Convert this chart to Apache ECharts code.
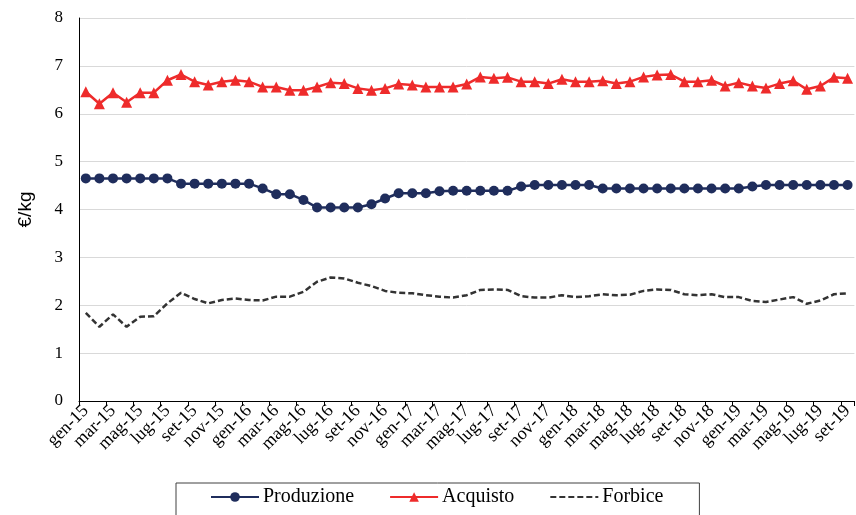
<!DOCTYPE html>
<html>
<head>
<meta charset="utf-8">
<script src="https://cdn.jsdelivr.net/npm/echarts@6/dist/echarts.min.js"></script>
<style>html,body{margin:0;padding:0;background:#fff}#c{width:856px;height:515px}</style>
</head>
<body>
<div id="c"></div>
<script>
const months = ['gen','feb','mar','apr','mag','giu','lug','ago','set','ott','nov','dic'];
const categories = [];
for (let y = 15; y <= 19; y++) {
  for (let m = 0; m < 12; m++) {
    if (y === 19 && m > 8) break;
    categories.push(months[m] + '-' + y);
  }
}
const produzione = [4.65,4.65,4.65,4.65,4.65,4.65,4.65,4.54,4.54,4.54,4.54,4.54,4.54,4.44,4.32,4.32,4.20,4.04,4.04,4.04,4.04,4.11,4.23,4.34,4.34,4.34,4.38,4.39,4.39,4.39,4.39,4.39,4.48,4.51,4.51,4.51,4.51,4.51,4.44,4.44,4.44,4.44,4.44,4.44,4.44,4.44,4.44,4.44,4.44,4.48,4.51,4.51,4.51,4.51,4.51,4.51,4.51];
const acquisto = [6.46,6.21,6.44,6.24,6.44,6.44,6.70,6.82,6.67,6.60,6.67,6.70,6.67,6.56,6.56,6.49,6.49,6.56,6.65,6.63,6.53,6.49,6.53,6.62,6.60,6.56,6.56,6.56,6.62,6.77,6.74,6.76,6.67,6.67,6.63,6.72,6.67,6.67,6.69,6.63,6.67,6.77,6.81,6.82,6.67,6.67,6.70,6.58,6.65,6.58,6.54,6.63,6.69,6.51,6.58,6.76,6.74];
const forbice = [1.84,1.55,1.81,1.55,1.76,1.77,2.04,2.26,2.13,2.04,2.11,2.14,2.11,2.10,2.18,2.18,2.28,2.49,2.58,2.56,2.47,2.40,2.30,2.26,2.25,2.21,2.18,2.16,2.21,2.32,2.33,2.32,2.19,2.16,2.16,2.21,2.17,2.19,2.23,2.21,2.22,2.30,2.33,2.32,2.23,2.21,2.23,2.17,2.17,2.09,2.07,2.12,2.17,2.03,2.10,2.23,2.25];
const yTicks = {min: 0, max: 8, interval: 1};

const serif = '"Liberation Serif", "Times New Roman", serif';
const chart = echarts.init(document.getElementById('c'), null, {renderer: 'canvas'});
chart.setOption({
  animation: false,
  backgroundColor: '#fff',
  grid: {left: 79, top: 18, bottom: 114, width: 784, containLabel: false},
  xAxis: {
    type: 'category',
    data: categories,
    boundaryGap: true,
    axisLine: {lineStyle: {color: '#000', width: 1}},
    axisTick: {show: true, interval: 1, length: 5, lineStyle: {color: '#000'}},
    axisLabel: {interval: 1, rotate: 45, margin: 7, fontFamily: serif, fontSize: 18, color: '#000'},
    splitLine: {show: false}
  },
  yAxis: {
    type: 'value',
    min: yTicks.min, max: yTicks.max, interval: yTicks.interval,
    name: '€/kg',
    nameLocation: 'middle',
    nameGap: 44,
    nameTextStyle: {fontFamily: '"Liberation Sans", Arial, sans-serif', fontSize: 19, color: '#000'},
    axisLine: {show: true, lineStyle: {color: '#000', width: 1}},
    axisTick: {show: false},
    axisLabel: {margin: 16, fontFamily: serif, fontSize: 17, color: '#000'},
    splitLine: {lineStyle: {color: '#d9d9d9', width: 1}}
  },
  legend: {
    left: 176, top: 483,
    borderColor: '#404040', borderWidth: 1,
    padding: [4, 36, 20, 34],
    itemWidth: 48, itemHeight: 12, itemGap: 35,
    textStyle: {fontFamily: serif, fontSize: 20, color: '#000', padding: [0, 0, 0, -1]},
    data: ['Produzione', 'Acquisto', {name: 'Forbice', itemStyle: {opacity: 0}}]
  },
  series: [
    {name: 'Produzione', type: 'line', data: produzione, symbol: 'circle', symbolSize: 10, showAllSymbol: true,
      itemStyle: {color: '#1f2d5c'}, lineStyle: {color: '#1f2d5c', width: 2.5}},
    {name: 'Acquisto', type: 'line', data: acquisto, symbol: 'triangle', symbolSize: 11, showAllSymbol: true,
      itemStyle: {color: '#ee2b2b'}, lineStyle: {color: '#ee2b2b', width: 2.5}},
    {name: 'Forbice', type: 'line', data: forbice, symbol: 'none',
      itemStyle: {color: '#333'}, lineStyle: {color: '#333', width: 2.5, type: [6, 3]}}
  ]
});
</script>
</body>
</html>
